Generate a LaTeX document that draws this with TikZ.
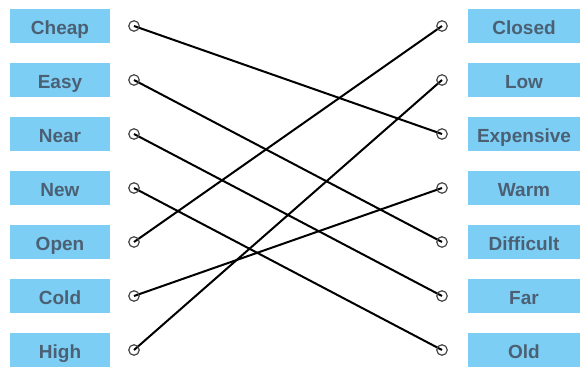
\documentclass[tikz,border=0pt]{standalone}
\usepackage{fontspec}
\setmainfont{Liberation Sans}
\usetikzlibrary{positioning}
\definecolor{boxblue}{RGB}{125, 206, 245}
\definecolor{wordgray}{RGB}{76, 96, 116}
\definecolor{ringgray}{RGB}{70, 70, 70}

\begin{document}
\begin{tikzpicture}[
        x=1pt, y=1pt,
        word/.style={fill=boxblue, minimum height=34pt, inner sep=0pt, text height=16.5pt, text depth=0pt, text=wordgray, font=\fontsize{19}{19}\selectfont\bfseries},
        leftword/.style={word, minimum width=100pt},
        rightword/.style={word, minimum width=112pt},
        ring/.style={circle, draw=ringgray, line width=1.2pt, minimum size=10.5pt, inner sep=0pt},
        link/.style={line width=2pt, draw=black}
    ]
        \useasboundingbox (0,0) rectangle (581,367);
        % left column
        \node[leftword] (cheap) at (60,341) {Cheap};
        \node[leftword] (easy) at (60,287) {Easy};
        \node[leftword] (near) at (60,233) {Near};
        \node[leftword] (new) at (60,179) {New};
        \node[leftword] (open) at (60,125) {Open};
        \node[leftword] (cold) at (60,71) {Cold};
        \node[leftword] (high) at (60,17) {High};
        % right column
        \node[rightword] (closed) at (524,341) {Closed};
        \node[rightword] (low) at (524,287) {Low};
        \node[rightword] (expensive) at (524,233) {Expensive};
        \node[rightword] (warm) at (524,179) {Warm};
        \node[rightword] (difficult) at (524,125) {Difficult};
        \node[rightword] (far) at (524,71) {Far};
        \node[rightword] (old) at (524,17) {Old};

        % connection points
        \foreach \w in {cheap, easy, near, new, open, cold, high}
            \coordinate[right=74pt of \w.center] (\w-pin);
        \foreach \w in {closed, low, expensive, warm, difficult, far, old}
            \coordinate[left=82pt of \w.center] (\w-pin);

        % links
        \draw[link] (cheap-pin) -- (expensive-pin);
        \draw[link] (easy-pin) -- (difficult-pin);
        \draw[link] (near-pin) -- (far-pin);
        \draw[link] (new-pin) -- (old-pin);
        \draw[link] (open-pin) -- (closed-pin);
        \draw[link] (cold-pin) -- (warm-pin);
        \draw[link] (high-pin) -- (low-pin);

        \foreach \w in {cheap, easy, near, new, open, cold, high, closed, low, expensive, warm, difficult, far, old}
            \node[ring] (\w-ring) at (\w-pin) {};
    \end{tikzpicture}
\end{document}
